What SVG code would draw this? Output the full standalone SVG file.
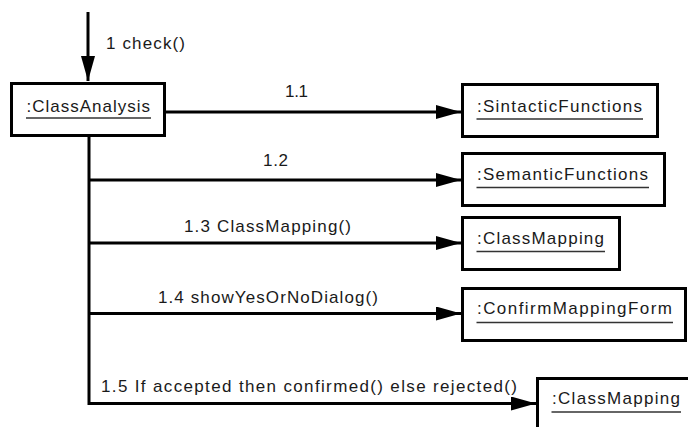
<svg xmlns="http://www.w3.org/2000/svg" width="688" height="427" viewBox="0 0 688 427">
  <style>
    .box { fill: #ffffff; stroke: #000000; stroke-width: 3; }
    .lbl { font-family: "Liberation Sans", Arial, sans-serif; font-size: 17px; fill: #1a1a1a; }
    .ul { stroke: #333333; stroke-width: 1.5; }
    .wire { fill: none; stroke: #000000; stroke-width: 3; }
  </style>
  <defs>
    <marker id="head" viewBox="0 0 25 14" refX="25" refY="7" markerWidth="25" markerHeight="14" markerUnits="userSpaceOnUse" orient="auto">
      <path d="M0,0 L25,7 L0,14 Z" fill="#000000"/>
    </marker>
  </defs>

  <rect width="688" height="427" fill="#ffffff"/>

  <!-- connectors -->
  <g id="connectors">
    <path class="wire" d="M88,12 V81" marker-end="url(#head)"/>
    <path class="wire" d="M166,112 H461" marker-end="url(#head)"/>
    <path class="wire" d="M89,137 V403.5 H536" marker-end="url(#head)"/>
    <path class="wire" d="M89,180 H461" marker-end="url(#head)"/>
    <path class="wire" d="M89,243 H461" marker-end="url(#head)"/>
    <path class="wire" d="M89,313.5 H461" marker-end="url(#head)"/>

    <text class="lbl" x="106" y="49" textLength="79" lengthAdjust="spacing">1 check()</text>
    <text class="lbl" x="285" y="96.5" textLength="23" lengthAdjust="spacing">1.1</text>
    <text class="lbl" x="263" y="166" textLength="25" lengthAdjust="spacing">1.2</text>
    <text class="lbl" x="184" y="232" textLength="167" lengthAdjust="spacing">1.3 ClassMapping()</text>
    <text class="lbl" x="158" y="303" textLength="220" lengthAdjust="spacing">1.4 showYesOrNoDialog()</text>
    <text class="lbl" x="101" y="392" textLength="416" lengthAdjust="spacing">1.5 If accepted then confirmed() else rejected()</text>
  </g>

  <!-- objects -->
  <g id="classAnalysis">
    <rect class="box" x="11.5" y="83.5" width="153" height="52"/>
    <text class="lbl" x="26.5" y="111.5" textLength="123.5" lengthAdjust="spacing">:ClassAnalysis</text>
    <line class="ul" x1="26" y1="118" x2="151" y2="118"/>
  </g>

  <g id="sintacticFunctions">
    <rect class="box" x="462.5" y="84.5" width="195" height="52"/>
    <text class="lbl" x="477" y="111.7" textLength="165" lengthAdjust="spacing">:SintacticFunctions</text>
    <line class="ul" x1="476.5" y1="119" x2="643" y2="119"/>
  </g>

  <g id="semanticFunctions">
    <rect class="box" x="462.5" y="153.5" width="202" height="52"/>
    <text class="lbl" x="477" y="180" textLength="171" lengthAdjust="spacing">:SemanticFunctions</text>
    <line class="ul" x1="476.5" y1="187.5" x2="649" y2="187.5"/>
  </g>

  <g id="classMapping">
    <rect class="box" x="462.5" y="217.5" width="157" height="52"/>
    <text class="lbl" x="477" y="244" textLength="127" lengthAdjust="spacing">:ClassMapping</text>
    <line class="ul" x1="476.5" y1="251.5" x2="605" y2="251.5"/>
  </g>

  <g id="confirmMappingForm">
    <rect class="box" x="462.5" y="288.5" width="223" height="52"/>
    <text class="lbl" x="477" y="314" textLength="195" lengthAdjust="spacing">:ConfirmMappingForm</text>
    <line class="ul" x1="476.5" y1="322.5" x2="673" y2="322.5"/>
  </g>

  <g id="classMappingResult">
    <rect class="box" x="537.5" y="378.5" width="160" height="60"/>
    <text class="lbl" x="552" y="404" textLength="128" lengthAdjust="spacing">:ClassMapping</text>
    <line class="ul" x1="551.5" y1="412" x2="681" y2="412"/>
  </g>
</svg>
